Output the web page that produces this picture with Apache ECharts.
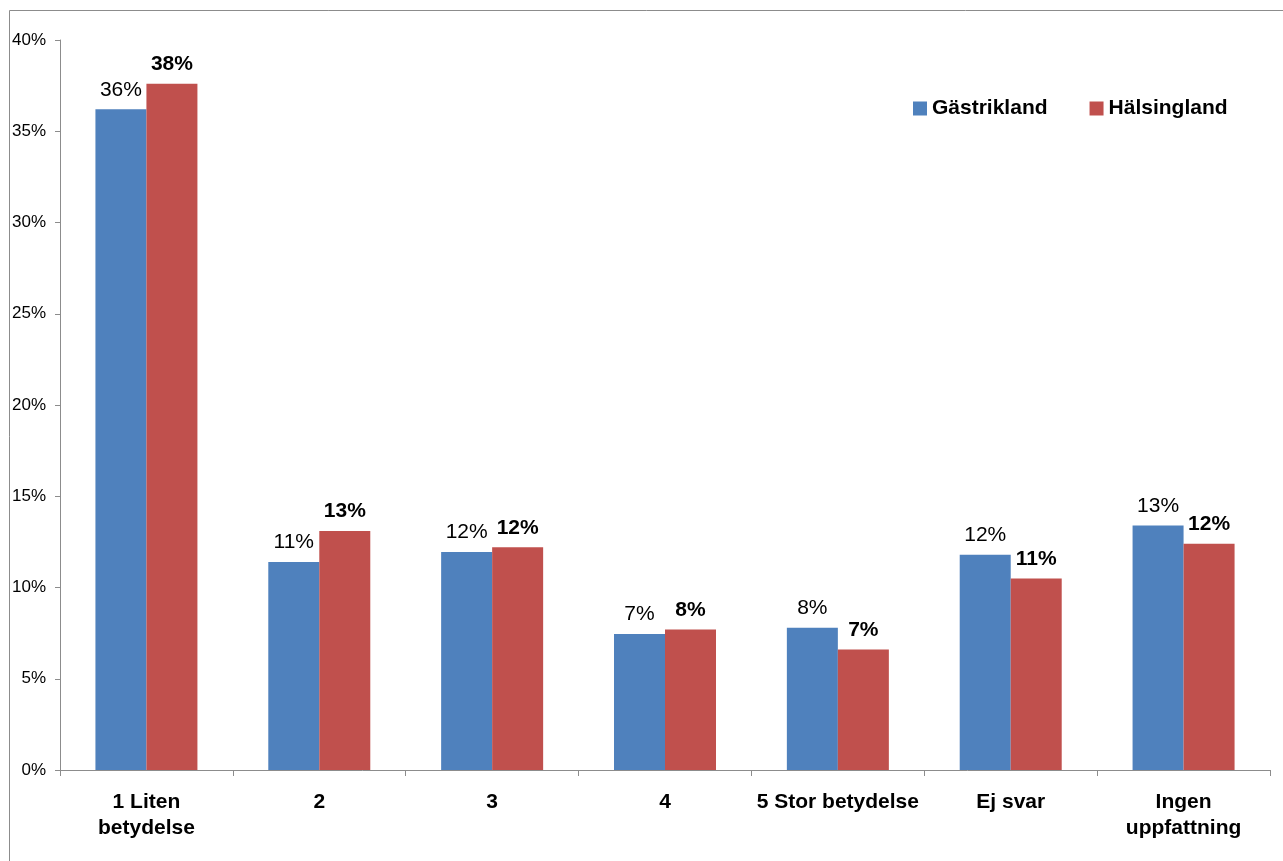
<!DOCTYPE html>
<html>
<head>
<meta charset="utf-8">
<script src="https://cdn.jsdelivr.net/npm/echarts@6/dist/echarts.min.js"></script>
<style>
  html, body { margin: 0; padding: 0; background: #fff; }
  #chart { width: 1283px; height: 861px; }
</style>
</head>
<body>
<div id="chart"></div>
<script>
// Answer categories
const categories = ['1 Liten\nbetydelse', '2', '3', '4', '5 Stor betydelse', 'Ej svar', 'Ingen\nuppfattning'];
// Share of answers (%) per region
const gastrikland = [36.2, 11.4, 11.95, 7.45, 7.8, 11.8, 13.4];
const halsingland = [37.6, 13.1, 12.2, 7.7, 6.6, 10.5, 12.4];
const seriesNames = ['Gästrikland', 'Hälsingland'];
// Y axis range and step (%)
const yMin = 0, yMax = 40, yStep = 5;

const font = '"Liberation Sans", Arial, sans-serif';
const pct = v => Math.round(v.value) + '%';

const chart = echarts.init(document.getElementById('chart'), null, { renderer: 'canvas' });
chart.setOption({
  animation: false,
  backgroundColor: '#fff',
  textStyle: { fontFamily: font },
  graphic: [{
    type: 'rect',
    shape: { x: 9.5, y: 10.5, width: 1300, height: 900 },
    style: { fill: 'none', stroke: '#8c8c8c', lineWidth: 1 },
    silent: true
  }],
  grid: { left: 60, right: 13, top: 40, bottom: 91, containLabel: false },
  legend: {
    data: seriesNames,
    left: 908, top: 93,
    itemWidth: 14, itemHeight: 14, itemGap: 42,
    icon: 'rect',
    textStyle: { fontFamily: font, fontSize: 21, fontWeight: 'bold', color: '#000', padding: [0, 0, 0, 0] }
  },
  xAxis: {
    type: 'category',
    data: categories,
    axisLine: { lineStyle: { color: '#8c8c8c', width: 1 } },
    axisTick: { show: true, length: 6, alignWithLabel: false, lineStyle: { color: '#8c8c8c' } },
    axisLabel: {
      interval: 0, margin: 19,
      fontFamily: font, fontSize: 21, fontWeight: 'bold', color: '#000', lineHeight: 26
    },
    splitLine: { show: false }
  },
  yAxis: {
    type: 'value',
    min: yMin, max: yMax, interval: yStep,
    axisLine: { show: true, lineStyle: { color: '#8c8c8c', width: 1 } },
    axisTick: { show: true, length: 5, lineStyle: { color: '#8c8c8c' } },
    axisLabel: { formatter: '{value}%', fontFamily: font, fontSize: 17, color: '#000', margin: 14 },
    splitLine: { show: false }
  },
  series: [
    {
      name: seriesNames[0], type: 'bar', data: gastrikland,
      barWidth: 51, barGap: '0%',
      itemStyle: { color: '#4f81bd' },
      label: { show: true, position: 'top', formatter: pct, fontFamily: font, fontSize: 21, color: '#000', distance: 9 }
    },
    {
      name: seriesNames[1], type: 'bar', data: halsingland,
      barWidth: 51, barGap: '0%',
      itemStyle: { color: '#c0504d' },
      label: { show: true, position: 'top', formatter: pct, fontFamily: font, fontSize: 21, fontWeight: 'bold', color: '#000', distance: 9 }
    }
  ]
});
</script>
</body>
</html>
